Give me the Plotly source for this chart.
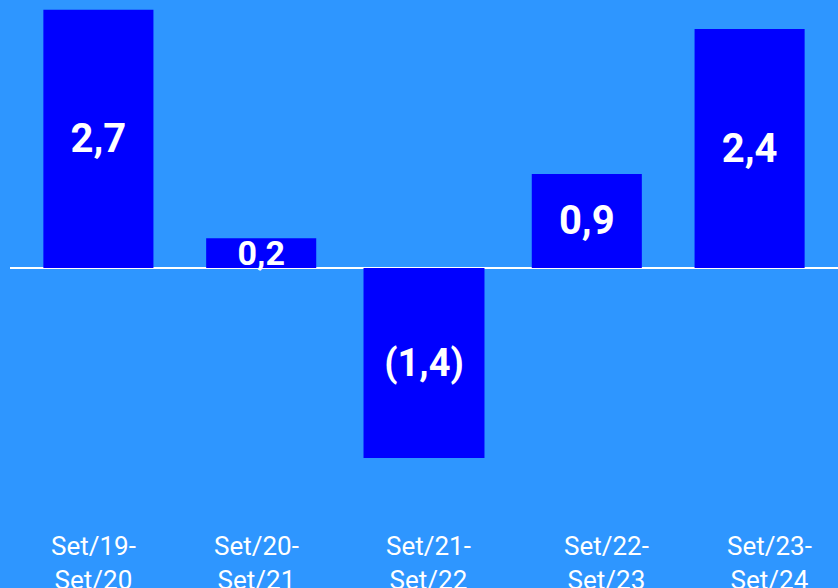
import plotly.graph_objects as go

categories = ["Set/19-<br>Set/20", "Set/20-<br>Set/21", "Set/21-<br>Set/22",
              "Set/22-<br>Set/23", "Set/23-<br>Set/24"]
bar_values = [2.69, 0.31, -1.98, 0.98, 2.49]
value_labels = ["2,7", "0,2", "(1,4)", "0,9", "2,4"]

BG = "#2E96FF"
BAR = "#0000FF"

fig = go.Figure(go.Bar(
    x=categories,
    y=bar_values,
    width=[0.676, 0.676, 0.743, 0.676, 0.676],
    marker=dict(color=BAR, line=dict(width=0)),
    text=value_labels,
    textposition="inside",
    insidetextanchor="middle",
    constraintext="none",
    textangle=0,
    textfont=dict(family="Roboto", size=[40, 34, 38, 40, 40], color="white", weight="bold"),
    cliponaxis=False,
))

label_shifts = [-5, -5, 4, 20, 20]
for cat, dx in zip(categories, label_shifts):
    fig.add_annotation(
        x=cat, y=0, xref="x", yref="paper", yanchor="top", xanchor="center",
        text=cat, showarrow=False, xshift=dx, yshift=-4,
        font=dict(family="Roboto", size=26, color="white"),
    )

fig.update_layout(
    width=838, height=588,
    paper_bgcolor=BG, plot_bgcolor=BG,
    margin=dict(l=10, r=0, t=0, b=63),
    showlegend=False,
    xaxis=dict(range=[-0.543, 4.543], showgrid=False, showline=False, ticks="",
               showticklabels=False, fixedrange=True),
    yaxis=dict(range=[-2.677, 2.792], showgrid=False, showticklabels=False,
               zeroline=True, zerolinecolor="white", zerolinewidth=2,
               fixedrange=True),
)

fig.write_html(
    "out.html",
    config={"displayModeBar": False},
    post_script="document.body.style.margin='0';document.body.style.background='%s';" % BG,
)
